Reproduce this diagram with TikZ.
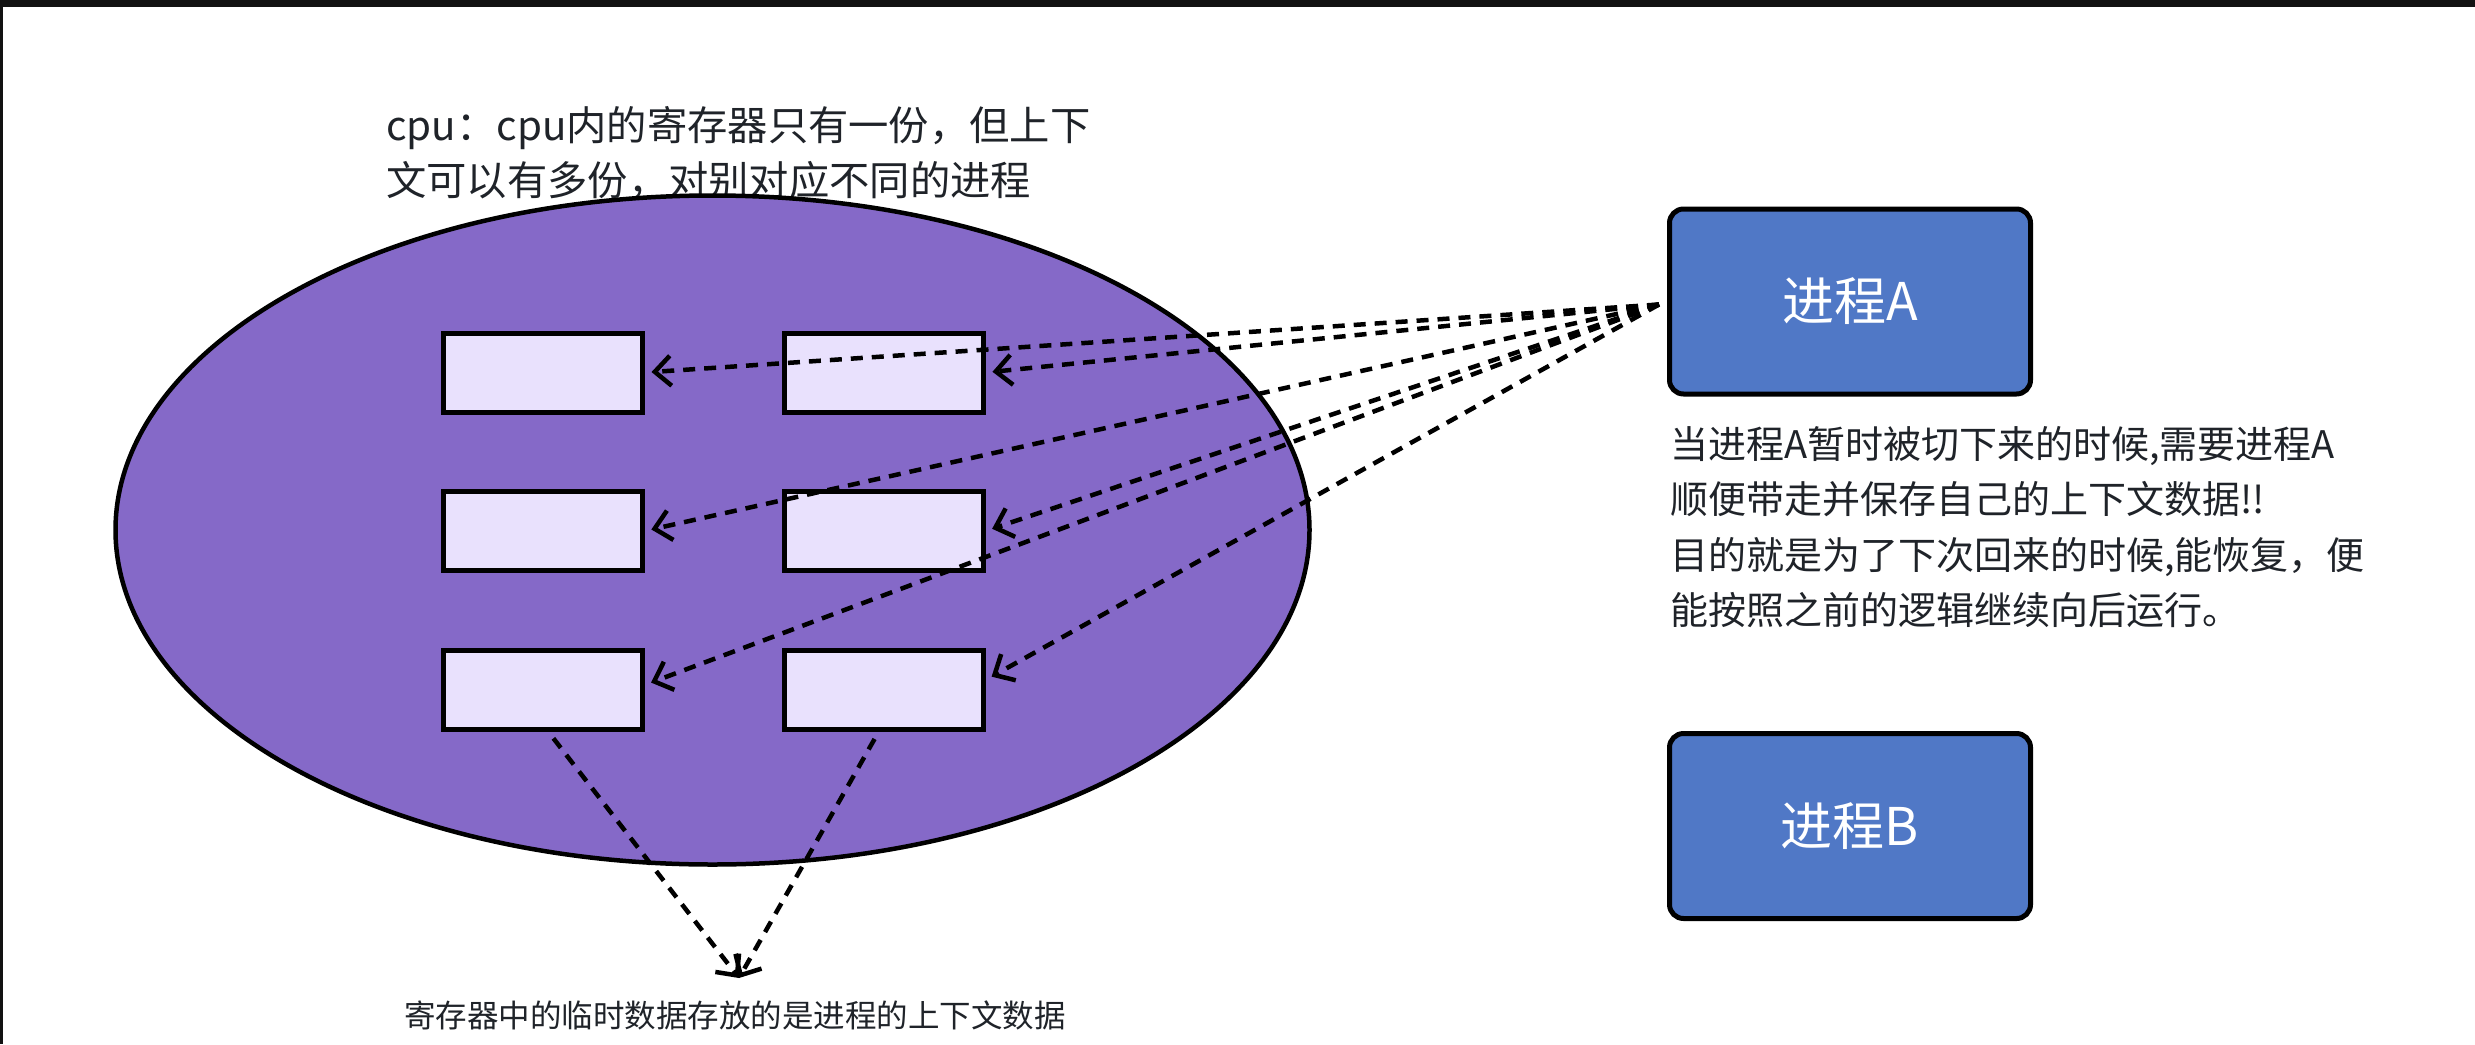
\documentclass[tikz,border=0pt]{standalone}
\usepackage{fontspec}
\newfontfamily\cjk{Noto Sans CJK SC}
\usetikzlibrary{shapes.geometric,arrows.meta,calc}
\definecolor{ellfill}{HTML}{8569C8}
\definecolor{boxfill}{HTML}{E9E1FD}
\definecolor{procfill}{HTML}{5078C6}
\definecolor{txt}{HTML}{1F2329}
\tikzset{
  regbox/.style={draw=black, line width=5pt, fill=boxfill, minimum width=199pt, minimum height=79pt, inner sep=0pt},
  proc/.style={draw=black, line width=5pt, fill=procfill, rounded corners=14pt, minimum width=361pt, minimum height=185pt, inner sep=0pt, text=white, font=\cjk\fontsize{52}{60}\selectfont},
  dasharrow/.style={draw=black, line width=4.5pt, dash pattern=on 12pt off 9pt, -{Straight Barb[length=16pt,width=30pt,line width=4.5pt]}, shorten >=7pt},
  bigtext/.style={text=txt, anchor=base west, inner sep=0pt, font=\cjk\fontsize{40.3}{55}\selectfont},
  paratext/.style={text=txt, anchor=base west, inner sep=0pt, font=\cjk\fontsize{38}{55}\selectfont},
  smalltext/.style={text=txt, anchor=base, inner sep=0pt, font=\cjk\fontsize{31.5}{40}\selectfont}
}
\begin{document}
\begin{tikzpicture}[x=1pt,y=-1pt]
\useasboundingbox (0,0) rectangle (2475,1044);
\fill[white] (0,0) rectangle (2475,1044);
\fill[black!93] (0,0) rectangle (2475,7);
\fill[black!93] (0,0) rectangle (2.5,1044);

% texts
\node[bigtext] (t1) at (386,140) {cpu：cpu内的寄存器只有一份，但上下};
\node[bigtext] (t2) at (386,195) {文可以有多份，对别对应不同的进程};

% cpu ellipse
\node[ellipse, draw=black, line width=4.5pt, fill=ellfill, minimum width=1194pt, minimum height=669pt, inner sep=0pt] (cpu) at (712.5,530) {};

% registers
\node[regbox] (b11) at (542.5,372.5) {};
\node[regbox] (b12) at (883.5,372.5) {};
\node[regbox] (b21) at (542.5,531) {};
\node[regbox] (b22) at (883.5,531) {};
\node[regbox] (b31) at (542.5,690) {};
\node[regbox] (b32) at (883.5,690) {};

% processes
\node[proc] (pa) at (1850,301.5) {\raisebox{-7pt}{进程A}};
\node[proc] (pb) at (1850,826) {\raisebox{-7pt}{进程B}};

% paragraph
\node[paratext] (p1) at (1670,458) {当进程A暂时被切下来的时候,需要进程A};
\node[paratext] (p2) at (1670,513.5) {顺便带走并保存自己的上下文数据!!};
\node[paratext] (p3) at (1670,569) {目的就是为了下次回来的时候,能恢复，便};
\node[paratext] (p4) at (1670,624.5) {能按照之前的逻辑继续向后运行。};

% arrows from process A
\coordinate (src) at ($(pa.west)+(-8,3)$);
\draw[dasharrow] (src) -- (b11.east);
\draw[dasharrow] (src) -- (b12.east);
\draw[dasharrow] (src) -- (b21.east);
\draw[dasharrow] (src) -- (b22.east);
\draw[dasharrow] (src) -- ($(b31.east)+(0,-5)$);
\draw[dasharrow] (src) -- ($(b32.east)+(0,-10)$);

% bottom arrows
\coordinate (tip) at (739,978);
\draw[dasharrow, shorten <=8pt, shorten >=0pt] ($(b31.south)+(6,0)$) -- (tip);
\draw[dasharrow, shorten <=8pt, shorten >=0pt] ($(b32.south)+(-5,0)$) -- (tip);

\node[smalltext] (bt) at (735,1027) {寄存器中的临时数据存放的是进程的上下文数据};
\end{tikzpicture}
\end{document}
